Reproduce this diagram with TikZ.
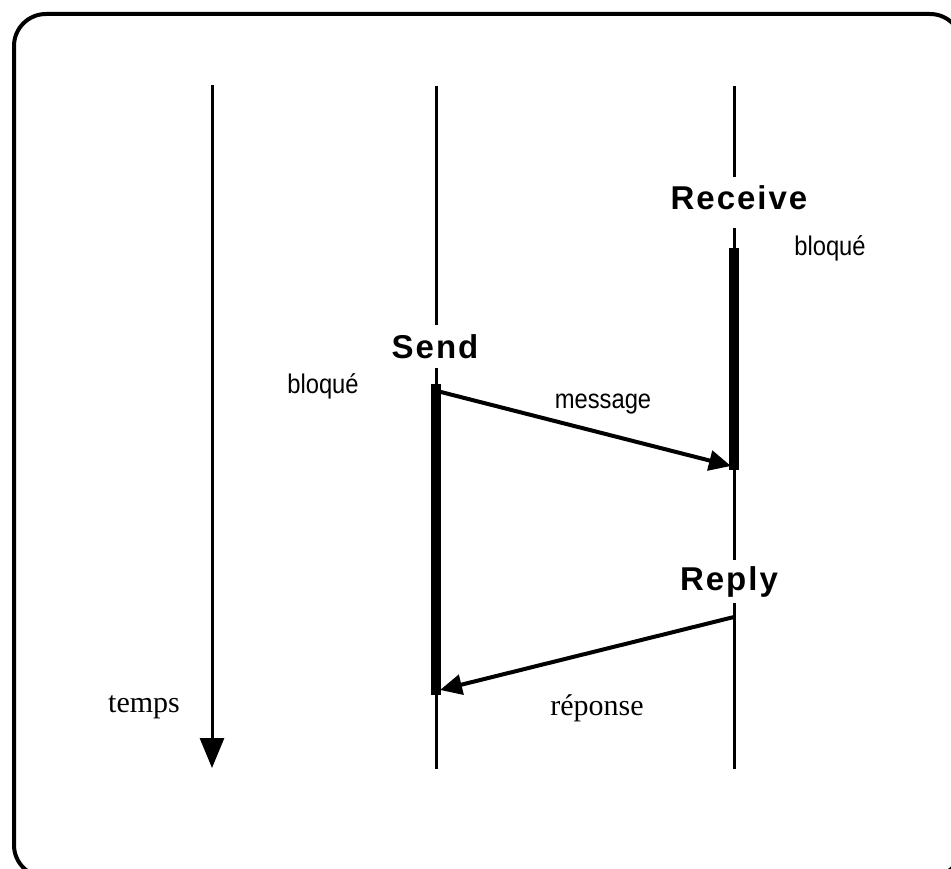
\documentclass[tikz,border=0pt]{standalone}
\usepackage{fontspec}
\setmainfont{Liberation Serif}
\newfontfamily\helv[FakeStretch=0.88]{Liberation Sans}
\newfontfamily\helvwide[LetterSpace=6]{Liberation Sans}
\usetikzlibrary{arrows.meta}

\begin{document}
\begin{tikzpicture}[x=1pt,y=-1pt,
  frame/.style={line width=4pt, rounded corners=32pt},
  lifeline/.style={line width=3pt},
  activity/.style={line width=10pt},
  msg/.style={line width=4pt, -{Triangle[length=22pt,width=20pt]}},
  timeaxis/.style={line width=3pt, -{Triangle[length=30pt,width=24pt]}},
  callname/.style={font=\helvwide\bfseries\fontsize{33}{33}\selectfont, inner sep=0pt},
  note/.style={font=\helv\fontsize{27}{27}\selectfont, inner sep=0pt},
  serifnote/.style={font=\fontsize{30}{30}\selectfont, inner sep=0pt}]

\useasboundingbox (0,0) rectangle (951,869);
\clip (0,0) rectangle (951,869);

% outer frame (runs off the right and bottom edges)
\draw[frame] (14,14) rectangle (962,877);

% time axis
\coordinate (tTop) at (212,85);
\coordinate (tEnd) at (212,768);
\draw[timeaxis] (tTop) -- (tEnd);
\node[serifnote] (temps) at (144,707) {temps};

% sender lifeline
\coordinate (sTop) at (436,86);
\coordinate (sA) at (436,325);
\coordinate (sB) at (436,368);
\coordinate (sBarTop) at (436,384);
\coordinate (sBarBot) at (436,695);
\coordinate (sBot) at (436,769);
\node[callname] (send) at (435,347) {Send};
\draw[lifeline] (sTop) -- (sA);
\draw[lifeline] (sB) -- (sBot);
\draw[activity] (sBarTop) -- (sBarBot);
\node[note] (bloqS) at (323,386) {bloqué};

% receiver lifeline
\coordinate (rTop) at (734,86);
\coordinate (rA) at (734,177);
\coordinate (rB) at (734,228);
\coordinate (rBarTop) at (734,248);
\coordinate (rBarBot) at (734,470);
\coordinate (rC) at (734,560);
\coordinate (rD) at (734,603);
\coordinate (rBot) at (734,769);
\node[callname] (receive) at (739,198) {Receive};
\node[callname] (reply) at (729,582) {Reply};
\draw[lifeline] (rTop) -- (rA);
\draw[lifeline] (rB) -- (rC);
\draw[lifeline] (rD) -- (rBot);
\draw[activity] (rBarTop) -- (rBarBot);
\node[note] (bloqR) at (830,248) {bloqué};

% messages
\coordinate (mFrom) at (437,391);
\coordinate (mTo) at (731,466);
\draw[msg] (mFrom) -- (mTo);
\node[note] (message) at (603,404) {message};

\coordinate (pFrom) at (734,617);
\coordinate (pTo) at (440,690);
\draw[msg] (pFrom) -- (pTo);
\node[serifnote] (reponse) at (597,708) {réponse};
\end{tikzpicture}
\end{document}
